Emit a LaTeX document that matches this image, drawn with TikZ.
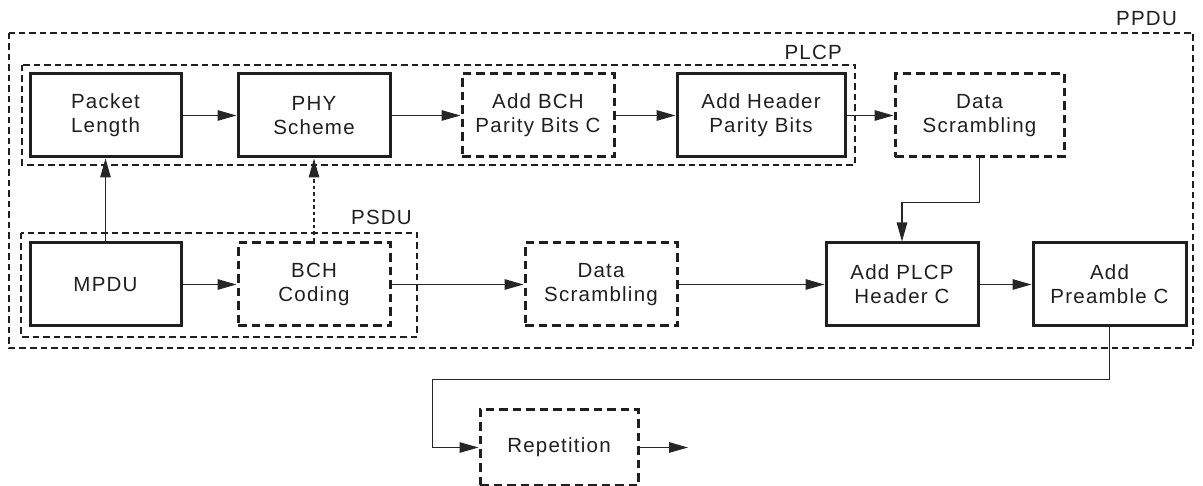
\documentclass[tikz,border=0pt]{standalone}
\usepackage{fontspec}
\setmainfont[LetterSpace=6]{Liberation Sans}
\usetikzlibrary{arrows.meta}
\tikzset{
  txt/.style={font=\fontsize{20.5}{24}\selectfont, align=center, inner sep=0pt, text=black!88},
  solidbox/.style={txt, draw=black!88, line width=3pt, minimum width=151pt, minimum height=83pt},
  dashbox/.style={txt, draw=black!88, line width=3pt, dash pattern=on 8.5pt off 5pt, minimum width=152pt, minimum height=83pt},
  frame/.style={draw=black!88, line width=2.4pt, dash pattern=on 6.5pt off 4pt},
  lbl/.style={font=\fontsize{20.5}{24}\selectfont, anchor=base east, inner sep=0pt, text=black!88},
  arr/.style={draw=black!85, line width=1.3pt, -{Triangle[length=19pt,width=10.5pt]}},
  darr/.style={arr, dash pattern=on 3.5pt off 3pt}
}
\begin{document}
\begin{tikzpicture}[x=1pt,y=-1pt]
\useasboundingbox (0,0) rectangle (1203,486);
% frames
\draw[frame] (9,33) rectangle (1193,348);
\draw[frame] (22,65) rectangle (855,165);
\draw[frame] (21,233) rectangle (417,337);
\node[lbl] (lppdu) at (1177,26) {PPDU};
\node[lbl] (lplcp) at (842,60) {PLCP};
\node[lbl] (lpsdu) at (412,225) {PSDU};
% top row
\node[solidbox] (pl) at (105.5,115.5) {Packet\\Length};
\node[solidbox, minimum width=152pt] (phy) at (314,115.5) {PHY\\Scheme};
\node[dashbox] (bchp) at (538,115.5) {Add BCH\\Parity Bits C};
\node[solidbox, minimum width=168pt] (hdr) at (761,115.5) {Add Header\\Parity Bits};
\node[dashbox, minimum width=169pt] (ds1) at (979.5,115.5) {Data\\Scrambling};
% bottom row
\node[solidbox] (mpdu) at (105.5,284.5) {MPDU};
\node[dashbox] (bchc) at (314,284.5) {BCH\\Coding};
\node[dashbox] (ds2) at (601,284.5) {Data\\Scrambling};
\node[solidbox, minimum width=152pt] (plcph) at (902,284.5) {Add PLCP\\Header C};
\node[solidbox, minimum width=153pt] (pre) at (1109.5,284.5) {Add\\Preamble C};
% repetition
\node[dashbox, minimum width=158pt, minimum height=76pt] (rep) at (559,447.5) {Repetition};
\coordinate (out) at (688,447.5);
% arrows
\draw[arr] (pl.east) -- (phy.west);
\draw[arr] (phy.east) -- (bchp.west);
\draw[arr] (bchp.east) -- (hdr.west);
\draw[arr] (hdr.east) -- (ds1.west);
\draw[arr] (mpdu.north) -- (pl.south);
\draw[darr] (bchc.north) -- (phy.south);
\draw[arr] (mpdu.east) -- (bchc.west);
\draw[arr] (bchc.east) -- (ds2.west);
\draw[arr] (ds2.east) -- (plcph.west);
\draw[arr] (ds1.south) -- ++(0,44) -| (plcph.north);
\draw[arr] (plcph.east) -- (pre.west);
\draw[arr] (pre.south) -- ++(0,52) -| ([xshift=-46pt]rep.west) -- (rep.west);
\draw[arr] (rep.east) -- (out);
\end{tikzpicture}
\end{document}
